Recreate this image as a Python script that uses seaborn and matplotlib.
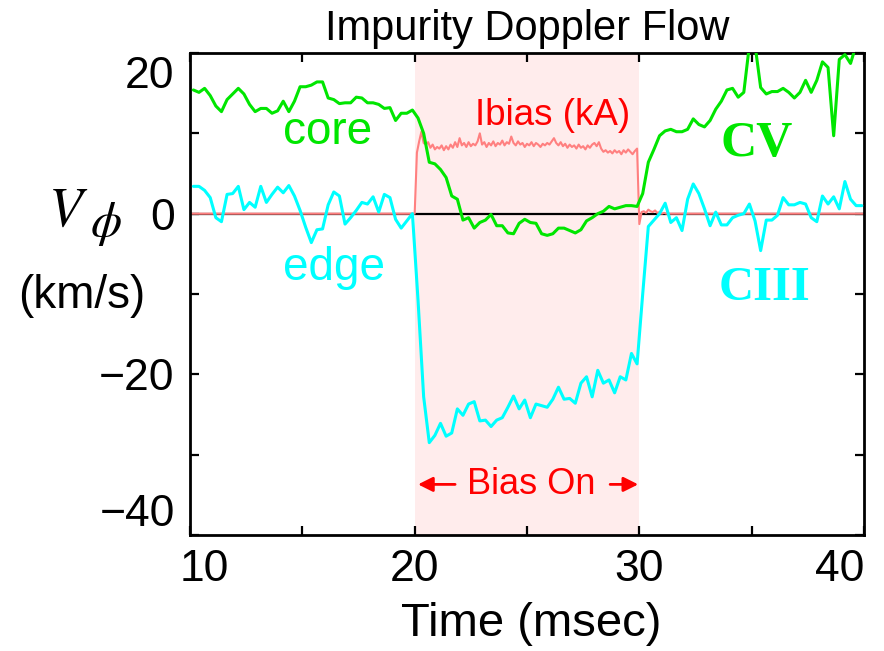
import numpy as np
import pandas as pd
import matplotlib
matplotlib.use("Agg")
import matplotlib.pyplot as plt
import matplotlib.transforms as mtransforms
import seaborn as sns

# ---- data -------------------------------------------------------------
# Doppler channels are sampled every 0.25 ms starting at 10.15 ms
core_cv = [
    15.4, 15.1, 15.6, 14.7, 13.4, 12.7, 14.2, 14.9, 15.6, 14.9,
    13.6, 12.7, 13.1, 13.1, 12.5, 12.8, 14.0, 12.7, 14.0, 15.8,
    15.8, 16.0, 16.4, 16.4, 14.4, 14.2, 13.7, 13.8, 13.8, 14.5,
    14.4, 13.8, 13.8, 13.6, 13.1, 13.2, 11.6, 12.5, 12.5, 12.9,
    11.9, 10.0, 6.4, 6.2, 5.5, 4.5, 2.2, 1.8, -0.8, -0.5,
    -1.8, -1.1, -0.8, -0.1, -1.5, -1.5, -2.4, -2.5, -1.2, -0.7,
    -1.1, -1.2, -2.5, -2.7, -2.5, -1.8, -1.8, -2.1, -2.4, -2.0,
    -0.9, -0.5, 0.0, 0.3, 0.9, 0.6, 0.8, 1.0, 1.0, 0.9,
    2.5, 6.4, 8.0, 9.7, 10.3, 10.5, 10.2, 10.2, 10.5, 11.8,
    11.1, 10.8, 11.6, 13.0, 14.0, 15.4, 15.6, 14.5, 15.1, 21.0,
    21.0, 15.7, 14.9, 15.2, 15.2, 15.6, 15.1, 14.4, 15.1, 16.6,
    15.1, 16.6, 18.9, 18.2, 9.7, 19.2, 19.8, 18.7, 21.0, 21.0,
]
edge_ciii = [
    3.4, 3.4, 2.9, 2.0, -0.5, -1.0, 2.4, 2.5, 3.4, 0.5,
    1.4, 0.8, 3.4, 1.4, 2.4, 3.3, 2.6, 3.5, 2.2, 0.4,
    -1.7, -3.6, -2.0, -1.9, 1.1, 2.7, 2.2, -1.3, -0.5, 0.4,
    1.4, 1.2, 2.1, 0.2, 2.4, 2.0, -0.7, -1.8, -0.9, 0.0,
    -10.8, -22.8, -28.5, -27.6, -26.1, -27.7, -27.3, -24.3, -25.1, -23.7,
    -23.4, -25.8, -25.7, -26.5, -25.7, -25.4, -24.1, -22.7, -24.3, -23.2,
    -25.4, -23.7, -23.9, -24.1, -23.1, -21.6, -23.1, -23.0, -23.6, -21.1,
    -20.3, -22.8, -19.5, -21.1, -20.7, -22.3, -20.3, -20.7, -17.4, -18.7,
    -10.0, -1.6, -0.8, 0.0, 1.3, -1.1, -0.5, -2.1, 1.8, 3.7,
    2.5, 0.6, -1.5, 0.2, -1.4, -1.4, -0.5, -0.2, 0.0, 1.2,
    -0.9, -4.6, -0.8, -0.8, -0.2, 2.0, 1.1, 1.1, 1.4, 1.2,
    -0.5, -1.0, 2.2, 1.2, 2.1, 0.6, 4.0, 1.8, 1.0, 1.0,
]
time_ms = np.round(10.15 + 0.25 * np.arange(len(core_cv)), 2)

# bias current, 0.1 ms resolution from 19.9 ms to 31.5 ms, zero elsewhere
ibias_ka = [
    0.0, 0.0,
    7.6, 9.0, 10.2, 8.8, 8.6, 8.9, 8.2, 8.6, 8.0,
    8.3, 8.1, 8.5, 7.9, 8.4, 8.0, 8.6, 8.2, 8.9, 8.3,
    9.4, 8.5, 8.8, 8.3, 8.9, 8.4, 8.7, 8.5, 9.0, 10.0,
    8.6, 8.9, 8.3, 8.8, 8.5, 9.0, 8.4, 8.8, 8.6, 9.1,
    8.5, 8.9, 8.7, 9.6, 8.8, 8.5, 9.0, 8.6, 8.8, 8.3,
    8.7, 8.5, 8.9, 8.4, 8.8, 8.6, 8.3, 8.7, 8.5, 8.8,
    8.6, 9.0, 9.4, 8.8, 8.5, 8.9, 8.4, 8.7, 8.2, 8.6,
    8.3, 8.5, 8.1, 8.6, 8.2, 8.4, 8.0, 8.5, 8.2, 8.6,
    8.8, 8.4, 8.9, 8.1, 7.7, 7.9, 7.6, 7.8, 7.5, 7.9,
    7.6, 7.8, 7.4, 7.9, 7.6, 8.0, 7.7, 7.4, 7.8, 8.1,
    -1.3, 0.2, 0.3, 0.1, 0.5, 0.3, 0.2, 0.4, 0.1, 0.2,
    0.0, 0.1, 0.0, 0.0, 0.0, 0.0,
]
ibias_time = np.round(19.9 + 0.1 * np.arange(len(ibias_ka)), 2)
ibias_time = np.concatenate([[10.0], ibias_time, [40.0]])
ibias_ka = [0.0] + ibias_ka + [0.0]

bias_window = (20.0, 30.0)
x_ticks = [10, 20, 30, 40]
x_minor = [15, 25, 35]
y_ticks = [-40, -20, 0, 20]
y_minor = [-30, -10, 10]

flow = pd.DataFrame({"time": time_ms, "core": core_cv, "edge": edge_ciii})
bias = pd.DataFrame({"time": ibias_time, "ibias": ibias_ka})

# ---- style ------------------------------------------------------------
sns.set_theme(style="ticks")
plt.rcParams["font.family"] = ["Liberation Sans", "DejaVu Sans"]
plt.rcParams["mathtext.fontset"] = "stix"
plt.rcParams["axes.linewidth"] = 2.0
for key in ("text.color", "axes.labelcolor", "axes.edgecolor",
            "xtick.color", "ytick.color", "xtick.labelcolor", "ytick.labelcolor"):
    plt.rcParams[key] = "black"

GREEN = "#00e600"
CYAN = "#00ffff"
PINK = "#ff8080"
RED = "#ff0000"

fig = plt.figure(figsize=(8.84, 6.51), dpi=100)
ax = fig.add_axes([190 / 884, 1 - 535 / 651, (864 - 190) / 884, (535 - 53) / 651])

ax.axvspan(*bias_window, color="#ffecec", lw=0, zorder=0)
ax.axhline(0, color="black", lw=1.6, zorder=1)
sns.lineplot(data=bias, x="time", y="ibias", color=PINK, lw=1.5, ax=ax, zorder=2)
sns.lineplot(data=flow, x="time", y="core", color=GREEN, lw=2.2, ax=ax, zorder=3)
sns.lineplot(data=flow, x="time", y="edge", color=CYAN, lw=2.2, ax=ax, zorder=3)

ax.set_xlim(10, 40)
ax.set_ylim(-40, 20)
ax.set_xlabel("")
ax.set_ylabel("")
ax.set_xticks(x_ticks)
ax.set_xticks(x_minor, minor=True)
ax.set_yticks(y_ticks)
ax.set_yticks(y_minor, minor=True)
ax.set_xticklabels([str(v) for v in x_ticks])
ax.set_yticklabels([str(v).replace("-", "\u2212") for v in y_ticks])
ax.tick_params(which="both", direction="in", top=True, right=True,
               length=6.5, width=1.6, color="black", labelcolor="black", labelsize=32)
ax.tick_params(axis="x", pad=10)
ax.tick_params(axis="y", pad=11)
for s in ax.spines.values():
    s.set_linewidth(2.0)
    s.set_color("black")

fig.canvas.draw()
xl = ax.get_xticklabels()
xl[0].set_ha("left")
xl[0].set_transform(xl[0].get_transform() +
                    mtransforms.ScaledTranslation(-10 / 100, 0, fig.dpi_scale_trans))
xl[-1].set_ha("right")
yl = ax.get_yticklabels()
yl[0].set_va("bottom")
yl[-1].set_va("top")
yl[-1].set_transform(yl[-1].get_transform() +
                     mtransforms.ScaledTranslation(0, -3 / 100, fig.dpi_scale_trans))

# ---- annotations ------------------------------------------------------
ax.text(16.12, 8.7, "core", color=GREEN, fontsize=33, ha="center", va="baseline")
ax.text(16.43, -8.2, "edge", color=CYAN, fontsize=33, ha="center", va="baseline")
ax.text(26.15, 11.0, "Ibias (kA)", color=RED, fontsize=26.5, ha="center", va="baseline")
ax.text(35.23, 7.2, "CV", color=GREEN, fontsize=36, fontweight="bold",
        family="Liberation Serif", ha="center", va="baseline")
ax.text(35.55, -10.8, "CIII", color=CYAN, fontsize=35, fontweight="bold",
        family="Liberation Serif", ha="center", va="baseline")

ax.text(25.2, -33.7, "Bias On", color=RED, fontsize=26, ha="center", va="center")
arrow = dict(arrowstyle="-|>", color=RED, lw=2.0, mutation_scale=22, shrinkA=0, shrinkB=0)
ax.annotate("", xy=(20.15, -33.7), xytext=(21.8, -33.7), arrowprops=arrow)
ax.annotate("", xy=(29.95, -33.7), xytext=(28.7, -33.7), arrowprops=arrow)

fig.text(527 / 884, 1 - 40 / 651, "Impurity Doppler Flow", fontsize=30,
         ha="center", va="baseline")
fig.text(531 / 884, 1 - 636 / 651, "Time (msec)", fontsize=34,
         ha="center", va="baseline")
fig.text(88 / 884, 1 - 226 / 651, r"$V$", fontsize=40, ha="right", va="baseline")
fig.text(90 / 884, 1 - 236 / 651, r"$\phi$", fontsize=36, ha="left", va="baseline")
fig.text(82 / 884, 1 - 308 / 651, "(km/s)", fontsize=33, ha="center", va="baseline")

fig.savefig("out.png", dpi=100)
